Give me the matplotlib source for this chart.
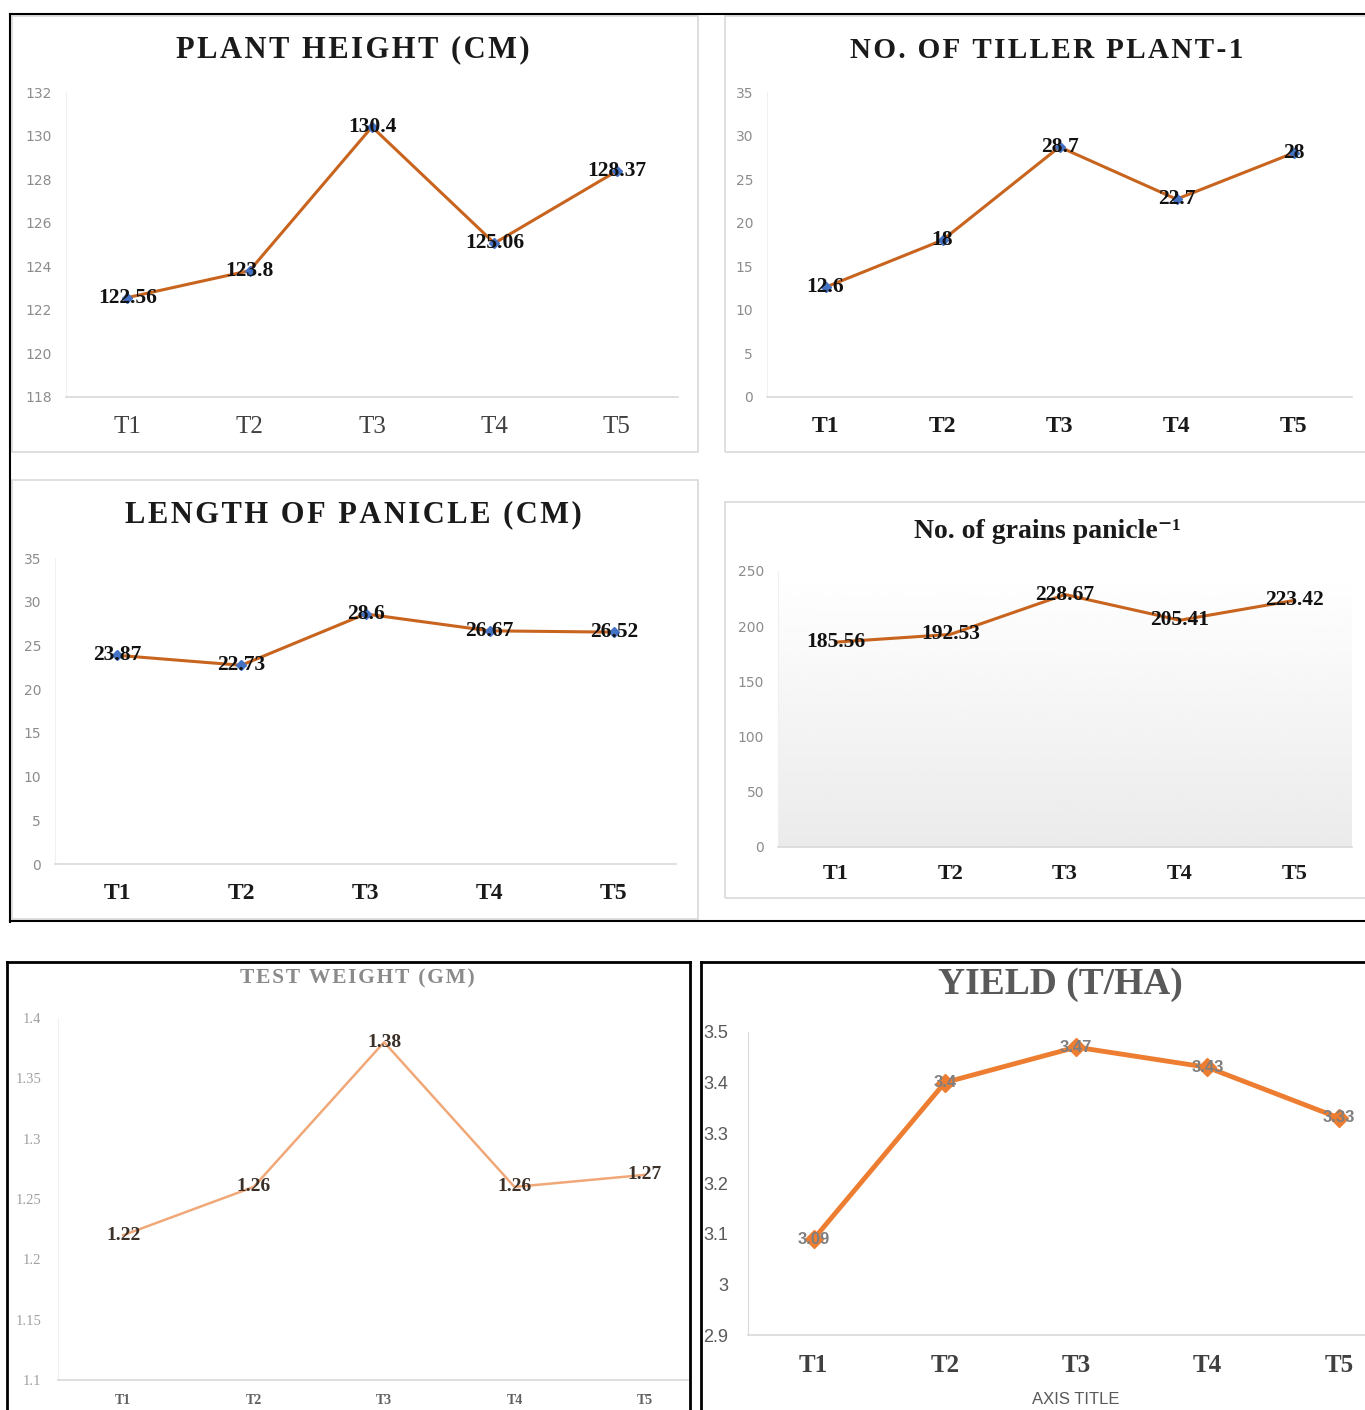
import matplotlib
matplotlib.use("Agg")
import matplotlib.pyplot as plt
import numpy as np
from matplotlib.lines import Line2D
from matplotlib.patches import Rectangle

# data
treatments = ["T1", "T2", "T3", "T4", "T5"]
plant_height = [122.56, 123.8, 130.4, 125.06, 128.37]
tillers = [12.6, 18, 28.7, 22.7, 28]
panicle_length = [23.87, 22.73, 28.6, 26.67, 26.52]
grains = [185.56, 192.53, 228.67, 205.41, 223.42]
test_weight = [1.22, 1.26, 1.38, 1.26, 1.27]
yield_tha = [3.09, 3.4, 3.47, 3.43, 3.33]

W, H = 1365, 1410
SERIF = ["Liberation Serif", "DejaVu Serif"]
SANS = ["Liberation Sans", "DejaVu Sans"]
NARROW = ["Liberation Sans Narrow", "Liberation Sans", "DejaVu Sans"]

fig = plt.figure(figsize=(W / 100, H / 100), dpi=100)


def add_ax(left, top, right, bottom):
    return fig.add_axes([left / W, 1 - bottom / H, (right - left) / W, (bottom - top) / H])


def fig_line(x0, y0, x1, y1, color="black", lw=1.5):
    fig.add_artist(Line2D([x0 / W, x1 / W], [1 - y0 / H, 1 - y1 / H],
                          transform=fig.transFigure, color=color, lw=lw))


def fig_box(x0, y0, x1, y1, color="#d9d9d9", lw=1.2):
    fig.add_artist(Rectangle((x0 / W, 1 - y1 / H), (x1 - x0) / W, (y1 - y0) / H,
                             transform=fig.transFigure, fill=False, ec=color, lw=lw))


def fig_text(x, y, s, **kw):
    fig.text(x / W, 1 - y / H, s, ha="center", va="center", **kw)


def spaced(s):
    # crude letter spacing, like the source charts
    return "\u200a".join(s)


def style_ax(ax, ylim, yticks, xlim=(-0.5, 4.5)):
    ax.set_xlim(*xlim)
    ax.set_ylim(*ylim)
    ax.set_yticks(yticks)
    ax.set_xticks(range(5))
    ax.set_xticklabels(treatments)
    for s in ["top", "right"]:
        ax.spines[s].set_visible(False)
    ax.spines["left"].set_color("#f0f0f0")
    ax.spines["bottom"].set_color("#d9d9d9")
    ax.spines["bottom"].set_linewidth(1.2)
    ax.tick_params(length=0)
    ax.patch.set_alpha(0)


def labels(ax, vals, **kw):
    for i, v in enumerate(vals):
        ax.text(i, v, f"{v:g}", ha="center", va="center", zorder=5, **kw)


# frames
fig_line(10, 14, 1365, 14)
fig_line(10, 14, 10, 922)
fig_line(10, 921, 1365, 921)
fig_box(12, 16, 698, 452)
fig_box(725, 16, 1372, 452)
fig_box(12, 480, 698, 919)
fig_box(725, 502, 1372, 898)
fig_line(7, 962, 690, 962, lw=2)
fig_line(7, 962, 7, 1410, lw=2)
fig_line(690, 962, 690, 1410, lw=2)
fig_line(701, 962, 1365, 962, lw=2)
fig_line(701, 962, 701, 1410, lw=2)

line_kw = dict(color="#c8641e", lw=2.2, marker="D", ms=5, mfc="#4472c4", mec="#4472c4", zorder=3)
lab_kw = dict(family=SERIF, fontweight="bold", fontsize=15.5, color="#111111")

# plant height
ax1 = add_ax(66, 92, 678, 397)
style_ax(ax1, (118, 132), np.arange(118, 133, 2))
ax1.plot(range(5), plant_height, **line_kw)
labels(ax1, plant_height, **lab_kw)
ax1.tick_params(axis="y", labelsize=10, labelcolor="#8c8c8c", pad=10)
ax1.tick_params(axis="x", pad=14)
for t in ax1.get_xticklabels():
    t.set_fontfamily(SERIF); t.set_fontsize(18); t.set_color("#404040")
fig_text(353, 50, spaced("PLANT HEIGHT (CM)"), family=SERIF, fontweight="bold", fontsize=22,
         color="#1a1a1a")

# tillers
ax2 = add_ax(767, 92, 1352, 397)
style_ax(ax2, (0, 35), np.arange(0, 36, 5))
ax2.plot(range(5), tillers, **line_kw)
labels(ax2, tillers, **lab_kw)
ax2.tick_params(axis="y", labelsize=10, labelcolor="#8c8c8c", pad=10)
ax2.tick_params(axis="x", pad=14)
for t in ax2.get_xticklabels():
    t.set_fontfamily(SERIF); t.set_fontsize(17); t.set_fontweight("bold"); t.set_color("#1a1a1a")
fig_text(1047, 50, spaced("NO. OF TILLER PLANT-1"), family=SERIF, fontweight="bold", fontsize=21,
         color="#1a1a1a")

# length of panicle
ax3 = add_ax(55, 558, 676, 864)
style_ax(ax3, (0, 35), np.arange(0, 36, 5))
ax3.plot(range(5), panicle_length, **line_kw)
labels(ax3, panicle_length, **lab_kw)
ax3.tick_params(axis="y", labelsize=10, labelcolor="#8c8c8c", pad=10)
ax3.tick_params(axis="x", pad=14)
for t in ax3.get_xticklabels():
    t.set_fontfamily(SERIF); t.set_fontsize(17); t.set_fontweight("bold"); t.set_color("#1a1a1a")
fig_text(353, 515, spaced("LENGTH OF PANICLE (CM)"), family=SERIF, fontweight="bold", fontsize=22,
         color="#1a1a1a")

# grains
ax4 = add_ax(778, 571, 1352, 847)
style_ax(ax4, (0, 250), np.arange(0, 251, 50))
grad = np.linspace(1.0, 0.92, 100).reshape(-1, 1)
ax4.imshow(grad, extent=(-0.5, 4.5, 0, 250), aspect="auto", cmap="gray", vmin=0, vmax=1,
           origin="upper", zorder=0)
ax4.plot(range(5), grains, color="#c8641e", lw=2.2, zorder=3)
labels(ax4, grains, **lab_kw)
ax4.tick_params(axis="y", labelsize=10, labelcolor="#8c8c8c", pad=10)
ax4.tick_params(axis="x", pad=12)
for t in ax4.get_xticklabels():
    t.set_fontfamily(SERIF); t.set_fontsize(16); t.set_fontweight("bold"); t.set_color("#1a1a1a")
fig_text(1047, 532, "No. of grains panicle\u207b\u00b9", family=SERIF, fontweight="bold", fontsize=20,
         color="#1a1a1a")

# test weight
ax5 = add_ax(58, 1018, 688, 1380)
style_ax(ax5, (1.1, 1.4), np.arange(1.1, 1.401, 0.05), xlim=(-0.5, 4.33))
ax5.set_yticklabels([f"{v:g}" for v in np.round(np.arange(1.1, 1.401, 0.05), 2)])
ax5.plot(range(5), test_weight, color="#f0a878", lw=1.8, zorder=3)
labels(ax5, test_weight, family=SERIF, fontweight="bold", fontsize=14, color="#3a3028")
ax5.tick_params(axis="y", labelsize=10.5, labelcolor="#a0a0a0", pad=12)
ax5.tick_params(axis="x", pad=10)
for t in ax5.get_yticklabels():
    t.set_fontfamily(SERIF)
for t in ax5.get_xticklabels():
    t.set_fontfamily(SERIF); t.set_fontsize(10); t.set_fontweight("bold"); t.set_color("#606060")
fig_text(357, 978, spaced("TEST WEIGHT (GM)"), family=SERIF, fontweight="bold", fontsize=15.5,
         color="#8a8a8a")

# yield
ax6 = add_ax(748, 1032, 1365, 1335)
style_ax(ax6, (2.9, 3.5), np.arange(2.9, 3.501, 0.1), xlim=(-0.5, 4.2))
ax6.set_yticklabels([f"{v:g}" for v in np.round(np.arange(2.9, 3.501, 0.1), 1)])
ax6.spines["left"].set_color("#d9d9d9")
ax6.plot(range(5), yield_tha, color="#ed7d31", lw=3.5, marker="D", ms=9, zorder=3)
labels(ax6, yield_tha, family=NARROW, fontweight="bold", fontsize=12, color="#7f7f7f")
ax6.tick_params(axis="y", labelsize=13, labelcolor="#595959", pad=14)
ax6.tick_params(axis="x", pad=14)
for t in ax6.get_yticklabels():
    t.set_fontfamily(NARROW)
for t in ax6.get_xticklabels():
    t.set_fontfamily(SERIF); t.set_fontsize(18); t.set_fontweight("bold"); t.set_color("#404040")
fig_text(1076, 1400, "AXIS TITLE", family=NARROW, fontsize=12, color="#595959")
fig_text(1060, 985, "YIELD (T/HA)", family=SERIF, fontweight="bold", fontsize=27, color="#595959")

fig.savefig("out.png", dpi=100, facecolor="white")
